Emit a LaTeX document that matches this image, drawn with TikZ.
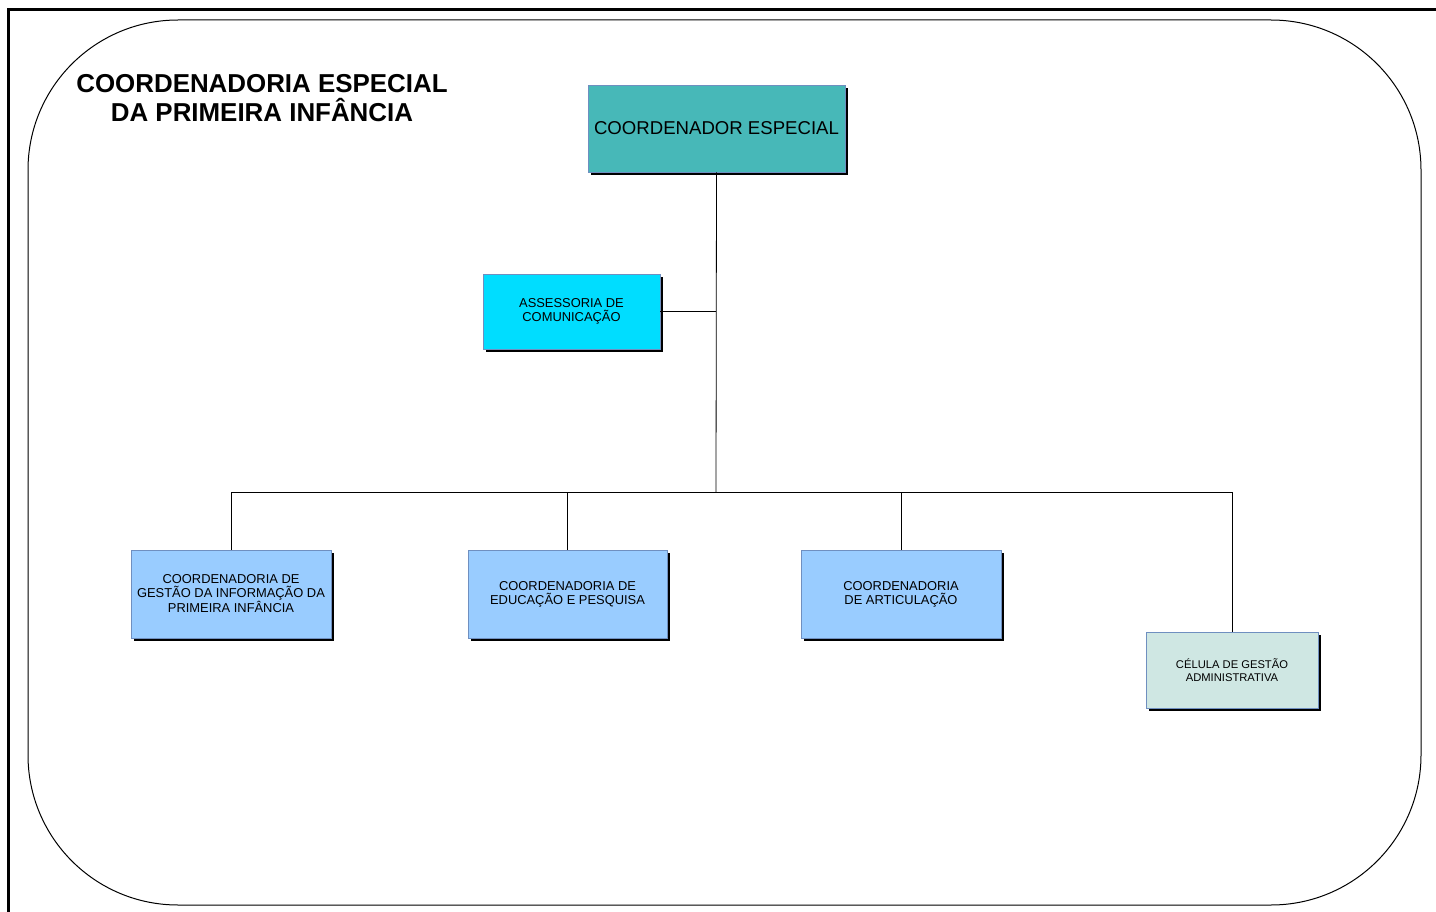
\documentclass[tikz,border=0pt]{standalone}
\usepackage{fontspec}
\setmainfont{Liberation Sans}
\definecolor{teal1}{HTML}{47B8B8}
\definecolor{cyan1}{HTML}{00DDFF}
\definecolor{blue1}{HTML}{99CCFF}
\definecolor{pale1}{HTML}{CFE7E3}
\definecolor{edge1}{HTML}{6F8FC0}
\tikzset{
  box/.style={draw=edge1, line width=0.8pt, align=center, inner sep=0pt,
    font=\fontsize{12.9}{14}\selectfont,
    general shadow={fill=black, shadow xshift=3pt, shadow yshift=-3pt}},
  conn/.style={draw=black, line width=0.8pt},
}
\usetikzlibrary{shadows}
\begin{document}
\begin{tikzpicture}[x=1pt,y=-1pt]
\useasboundingbox (0,0) rectangle (1436,912);
% outer frame
\draw[line width=3pt] (1436,9.5) -- (8.5,9.5) -- (8.5,912);
% rounded border
\draw[line width=1pt, rounded corners=150pt] (28,20) rectangle (1421,905);
% title
\node[font=\bfseries\fontsize{25.9}{29}\selectfont, align=center] (title) at (262,98.5)
  {COORDENADORIA ESPECIAL\\DA PRIMEIRA INFÂNCIA};
% boxes
\node[box, fill=teal1, minimum width=257pt, minimum height=87pt,
  font=\fontsize{18.6}{20}\selectfont] (ce) at (716.5,128.5) {COORDENADOR ESPECIAL};
\node[box, fill=cyan1, minimum width=177pt, minimum height=75pt] (ac) at (571.5,311.5)
  {ASSESSORIA DE\\COMUNICAÇÃO};
\node[box, fill=blue1, minimum width=200pt, minimum height=88pt] (gi) at (231,594)
  {COORDENADORIA DE\\GESTÃO DA INFORMAÇÃO DA\\PRIMEIRA INFÂNCIA};
\node[box, fill=blue1, minimum width=199pt, minimum height=88pt] (ep) at (567.5,594)
  {COORDENADORIA DE\\EDUCAÇÃO E PESQUISA};
\node[box, fill=blue1, minimum width=200pt, minimum height=88pt] (ar) at (901,594)
  {COORDENADORIA\\DE ARTICULAÇÃO};
\node[box, fill=pale1, minimum width=172pt, minimum height=76pt,
  font=\fontsize{11.2}{12.5}\selectfont] (cg) at (1232,670)
  {CÉLULA DE GESTÃO\\ADMINISTRATIVA};
% connectors
\coordinate (bus) at (716,492);
\coordinate (acj) at (716,311.5);
\draw[conn] (ce.south) -- (bus);
\draw[conn] (ac.east) -- (acj);
\draw[conn] (gi.north) -- (gi.north |- bus) -- (cg.north |- bus) -- (cg.north);
\draw[conn] (ep.north) -- (ep.north |- bus);
\draw[conn] (ar.north) -- (ar.north |- bus);
\end{tikzpicture}
\end{document}
